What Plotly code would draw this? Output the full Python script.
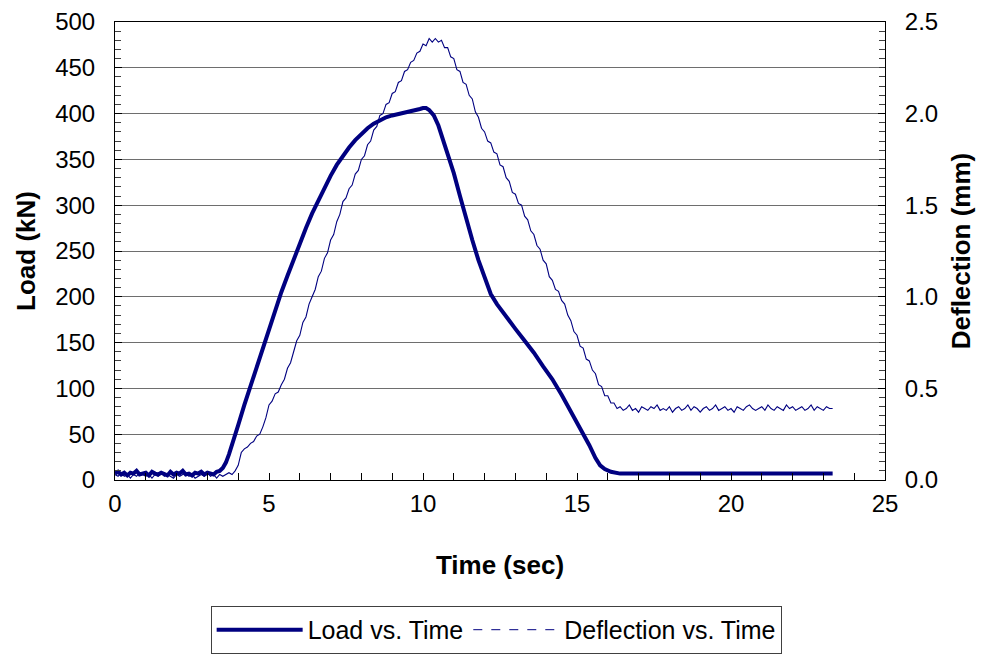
import plotly.graph_objects as go

# ---- Load vs. Time (kN) ----
load_time = [0.0, 0.1, 0.2, 0.3, 0.4, 0.5, 0.6, 0.7, 0.8, 0.9,
             1.0, 1.1, 1.2, 1.3, 1.4, 1.5, 1.6, 1.7, 1.8, 1.9,
             2.0, 2.1, 2.2, 2.3, 2.4, 2.5, 2.6, 2.7, 2.8, 2.9,
             3.0, 3.1, 3.2, 3.3,
             3.4, 3.5, 3.6, 3.7, 3.8, 3.9, 4.0, 4.2, 4.4, 4.6, 4.8,
             5.0, 5.2, 5.4, 5.6, 5.8, 6.0, 6.2, 6.4, 6.6, 6.8,
             7.0, 7.2, 7.4, 7.6, 7.8, 8.0, 8.2, 8.4, 8.6, 8.8,
             9.0, 9.3, 9.6, 9.9,
             10.0, 10.1, 10.2, 10.35, 10.5, 10.65, 10.8, 11.0, 11.2, 11.4,
             11.6, 11.8, 12.0, 12.2, 12.4, 12.7, 13.0, 13.3, 13.6, 13.9,
             14.2, 14.5, 14.8, 15.0, 15.2, 15.4, 15.6, 15.75, 15.9, 16.1,
             16.4, 17.0, 18.0, 19.0, 20.0, 21.0, 22.0, 23.0, 23.3]
load_kn = [7, 9, 6, 8, 5, 8, 7, 10, 6, 7,
           8, 5, 9, 7, 6, 8, 7, 5, 9, 6,
           8, 7, 10, 6, 7, 5, 8, 7, 9, 6,
           8, 7, 6, 9,
           10, 13, 19, 28, 38, 48, 60, 82, 103, 124, 145,
           165, 185, 205, 223, 241, 258, 275, 291, 305, 319,
           332, 344, 354, 363, 371, 378, 384, 389, 393, 396,
           398, 400, 402, 405,
           406, 406, 404, 398, 387, 371, 355, 335, 310, 285,
           262, 240, 220, 203, 192, 178, 165, 152, 139, 124,
           110, 93, 75, 63, 51, 38, 24, 16, 12, 9,
           7, 7, 7, 7, 7, 7, 7, 7, 7]

# ---- Deflection vs. Time (mm), sampled every 0.1 s from 0.0 s ----
defl_start = 0.0
defl_step = 0.1
defl_mm = [
    0.03, 0.02, 0.04, 0.02, 0.03, 0.01, 0.03, 0.02, 0.04, 0.03,   # 0 s
    0.02, 0.03, 0.01, 0.03, 0.02, 0.04, 0.02, 0.03, 0.02, 0.01,   # 1 s
    0.03, 0.02, 0.03, 0.04, 0.02, 0.03, 0.01, 0.02, 0.03, 0.02,   # 2 s
    0.04, 0.02, 0.03, 0.01, 0.03, 0.02, 0.03, 0.04, 0.03, 0.05,   # 3 s
    0.08, 0.15, 0.17, 0.18, 0.20, 0.21, 0.24, 0.25, 0.29, 0.34,   # 4 s
    0.41, 0.43, 0.47, 0.48, 0.52, 0.55, 0.61, 0.64, 0.70, 0.76,   # 5 s
    0.79, 0.86, 0.89, 0.96, 1.00, 1.04, 1.11, 1.14, 1.21, 1.24,   # 6 s
    1.31, 1.34, 1.41, 1.45, 1.52, 1.54, 1.59, 1.61, 1.67, 1.69,   # 7 s
    1.75, 1.77, 1.83, 1.85, 1.91, 1.93, 1.99, 2.00, 2.05, 2.06,   # 8 s
    2.11, 2.12, 2.17, 2.18, 2.23, 2.24, 2.28, 2.29, 2.33, 2.34,   # 9 s
    2.38, 2.37, 2.41, 2.39, 2.41, 2.39, 2.40, 2.36, 2.36, 2.31,   # 10 s
    2.30, 2.24, 2.23, 2.17, 2.16, 2.10, 2.08, 2.01, 1.98, 1.92,   # 11 s
    1.90, 1.85, 1.84, 1.79, 1.78, 1.72, 1.71, 1.65, 1.63, 1.57,   # 12 s
    1.56, 1.51, 1.50, 1.44, 1.42, 1.36, 1.34, 1.28, 1.26, 1.20,   # 13 s
    1.18, 1.11, 1.09, 1.04, 1.03, 0.98, 0.96, 0.90, 0.87, 0.81,   # 14 s
    0.79, 0.73, 0.72, 0.66, 0.65, 0.60, 0.58, 0.52, 0.51, 0.46,   # 15 s
    0.46, 0.42, 0.42, 0.39, 0.40, 0.38, 0.39, 0.41, 0.38, 0.39,   # 16 s
    0.37, 0.40, 0.39, 0.38, 0.40, 0.39, 0.41, 0.38, 0.39, 0.38,   # 17 s
    0.40, 0.37, 0.39, 0.40, 0.38, 0.39, 0.41, 0.38, 0.40, 0.39,   # 18 s
    0.37, 0.39, 0.40, 0.38, 0.39, 0.41, 0.38, 0.39, 0.40, 0.38,   # 19 s
    0.39, 0.37, 0.40, 0.39, 0.38, 0.40, 0.41, 0.39, 0.38, 0.39,   # 20 s
    0.40, 0.38, 0.41, 0.39, 0.38, 0.40, 0.39, 0.38, 0.41, 0.39,   # 21 s
    0.40, 0.38, 0.39, 0.40, 0.38, 0.39, 0.41, 0.38, 0.40, 0.39,   # 22 s
    0.38, 0.40, 0.39, 0.39,                                       # 23 s
]
defl_time = [round(defl_start + i * defl_step, 2) for i in range(len(defl_mm))]

NAVY = "#000080"
FONT = "Liberation Sans, Arial, sans-serif"

fig = go.Figure()
fig.add_trace(go.Scatter(
    x=load_time, y=load_kn, mode="lines", name="Load vs. Time",
    line=dict(color=NAVY, width=4), yaxis="y", showlegend=True))
fig.add_trace(go.Scatter(
    x=defl_time, y=defl_mm, mode="lines", name="Deflection vs. Time",
    line=dict(color=NAVY, width=1.1), yaxis="y2", showlegend=False))
# legend entry for deflection (dashed, as in the original legend)
fig.add_trace(go.Scatter(
    x=[None], y=[None], mode="lines", name="Deflection vs. Time",
    line=dict(color=NAVY, width=1, dash="dash"), yaxis="y2", showlegend=True))

fig.update_layout(
    width=981, height=656,
    margin=dict(l=115, r=96, t=22, b=176, autoexpand=False),
    paper_bgcolor="white", plot_bgcolor="white",
    font=dict(family=FONT, size=24, color="black"),
    showlegend=True,
    legend=dict(
        orientation="h", x=0.495, xanchor="center", y=-0.275, yanchor="top",
        bordercolor="#404040", borderwidth=1, bgcolor="white",
        font=dict(family=FONT, size=25, color="black"),
        itemwidth=86, tracegroupgap=0,
    ),
    xaxis=dict(
        range=[0, 25], dtick=5, tick0=0,
        showline=True, linecolor="black", linewidth=1, mirror=True,
        ticks="inside", ticklen=7, tickcolor="black",
        minor=dict(dtick=1, ticks="inside", ticklen=7, tickcolor="black", showgrid=False),
        showgrid=False, zeroline=False,
        ticklabelstandoff=2,
        title=dict(text="<b>Time (sec)</b>", font=dict(size=26), standoff=40),
    ),
    yaxis=dict(
        range=[0, 500], dtick=50, tick0=0,
        showline=True, linecolor="black", linewidth=1,
        ticks="inside", ticklen=7, tickcolor="black",
        minor=dict(dtick=10, ticks="inside", ticklen=6, tickcolor="#404040", showgrid=False),
        showgrid=True, gridcolor="#6e6e6e", gridwidth=1.3, zeroline=False,
        ticklabelstandoff=14,
        title=dict(text="<b>Load (kN)</b>", font=dict(size=26), standoff=12),
    ),
    yaxis2=dict(
        range=[0, 2.5], dtick=0.5, tick0=0, tickformat=".1f",
        overlaying="y", side="right",
        showline=True, linecolor="black", linewidth=1,
        ticks="inside", ticklen=7, tickcolor="black",
        minor=dict(dtick=0.05, ticks="inside", ticklen=6, tickcolor="#404040", showgrid=False),
        showgrid=False, zeroline=False,
        ticklabelstandoff=14,
        title=dict(text="<b>Deflection (mm)</b>", font=dict(size=26), standoff=14),
    ),
)

fig.write_html("out.html")
